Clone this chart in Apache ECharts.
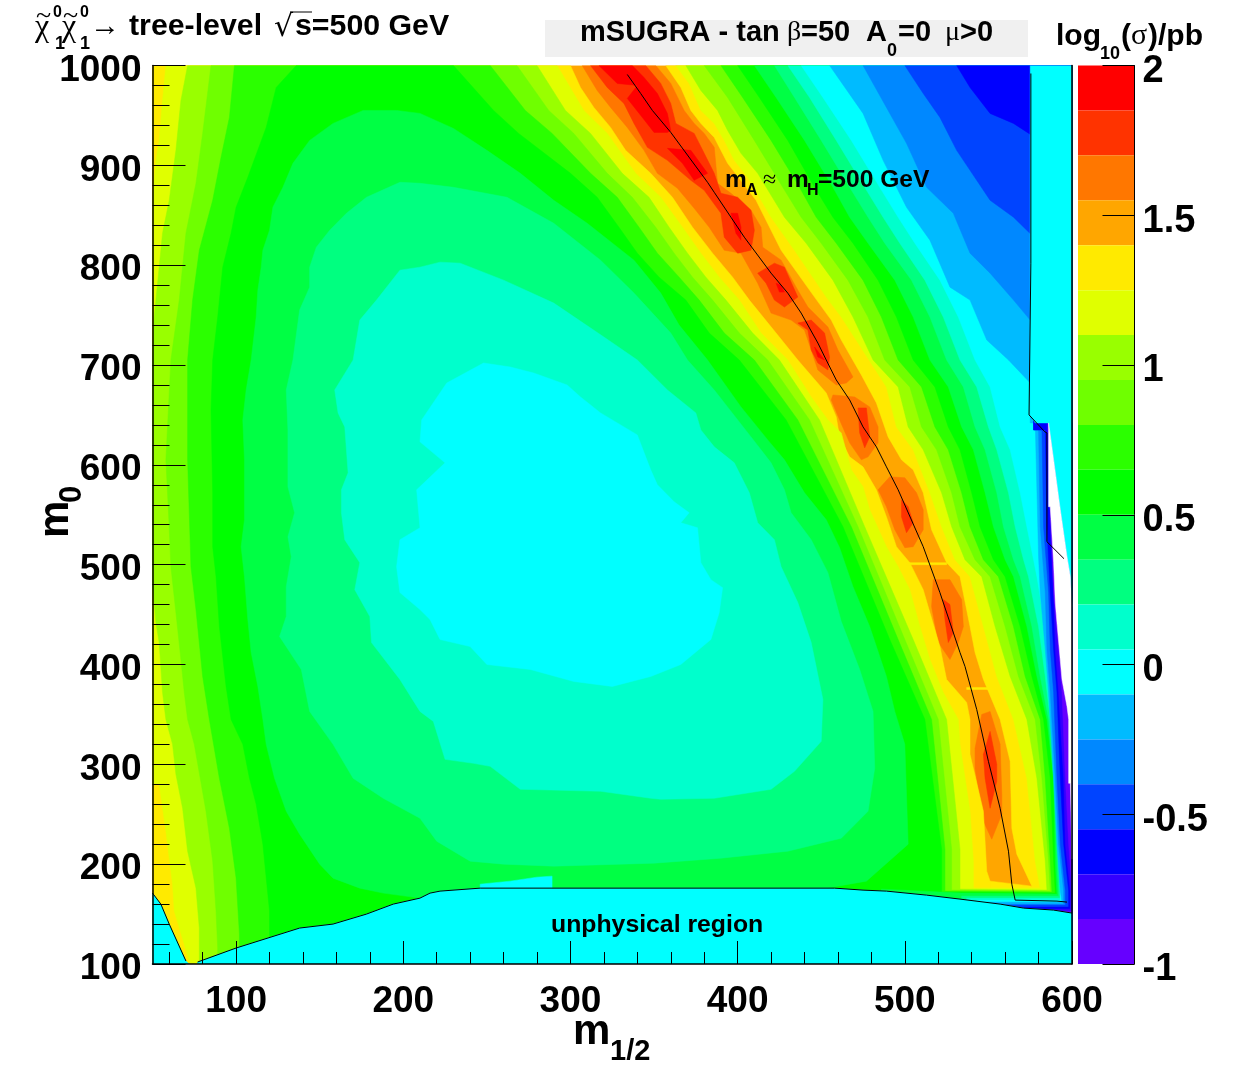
<!DOCTYPE html>
<html><head><meta charset="utf-8">
<style>html,body{margin:0;padding:0;background:#fff}#c{width:1245px;height:1072px}</style>
<script src="https://cdn.jsdelivr.net/npm/echarts@6/dist/echarts.min.js"></script>
</head><body><div id="c"></div>
<script>
// colour of each palette band, from the top of the scale (2) to the bottom (-1)
const bandColors=['#ff0000','#ff3300','#ff7700','#ffa600','#ffea00','#e0ff00','#99ff00','#6fff00','#2bff00','#00ff00','#00ff44','#00ff80','#00ffcc','#00ffff','#00bbff','#0088ff','#0044ff','#0000ff','#3300ff','#6600ff'];
const bandEdges=[2,1.85,1.7,1.55,1.4,1.25,1.1,0.95,0.8,0.65,0.5,0.35,0.2,0.05,-0.1,-0.25,-0.4,-0.55,-0.7,-0.85,-1];
const xMajor=[100,200,300,400,500,600];
const xMinor=[60,80,120,140,160,180,220,240,260,280,320,340,360,380,420,440,460,480,520,540,560,580];

// contours, (m1/2, m0). Left of the ridge
const left4=[[50,1000],[50,100],[551,100],[551,183],[549,193],[547,253],[539,310],[539,345],[537,362],[525,385],[521,418],[515,452],[511,475],[503,502],[495,518],[489,548],[483,575],[475,598],[467,608],[461,628],[459,648],[453,672],[436,705],[423,732],[407,765],[397,788],[385,812],[373,838],[361,868],[348,892],[333,915],[324,938],[314,958],[306,978],[300,1000]];
const left5=[[58,1000],[56,965],[54,925],[52,905],[50,865],[50,280],[54,280],[58,233],[60,206],[62,180],[63,153],[72,103],[72,100],[541,100],[541,176],[541,203],[539,253],[533,320],[532,345],[523,372],[515,405],[509,438],[503,475],[496,498],[489,518],[479,555],[475,578],[468,595],[462,632],[454,645],[444,668],[430,705],[414,732],[401,765],[389,788],[378,812],[367,838],[354,868],[339,892],[322,932],[308,955],[292,1000]];
const left6=[[71,1000],[67,965],[64,915],[60,865],[56,832],[54,798],[51,748],[50,705],[50,478],[51,462],[52,442],[54,422],[56,372],[58,345],[62,320],[64,290],[68,256],[71,213],[76,176],[78,136],[78,100],[533,100],[533,176],[533,215],[525,345],[505,425],[476,538],[449,645],[425,705],[409,732],[393,765],[381,788],[370,812],[359,838],[347,868],[331,892],[312,932],[297,955],[280,1000]];
const left7=[[85,1000],[80,932],[76,882],[70,832],[66,765],[61,705],[58,605],[60,538],[61,498],[64,452],[67,405],[69,372],[71,345],[75,320],[82,253],[86,203],[88,153],[89,116],[89,100],[528,100],[528,215],[520,345],[500,425],[472,538],[443,645],[418,705],[401,732],[385,765],[373,788],[362,812],[351,838],[337,868],[322,892],[302,932],[287,955],[268,1000]];
const left8=[[99,1000],[96,948],[91,908],[86,865],[78,815],[74,765],[71,705],[71,605],[73,498],[76,455],[80,388],[84,345],[90,286],[96,236],[100,186],[102,130],[102,100],[524,100],[524,215],[516,345],[496,425],[468,538],[436,645],[410,705],[392,732],[377,765],[365,788],[352,812],[341,838],[328,868],[312,892],[289,932],[273,955],[252,1000]];
const left9=[[136,1000],[124,978],[118,938],[107,888],[100,858],[97,832],[92,798],[89,748],[86,705],[85,655],[86,572],[86,518],[88,488],[90,438],[94,378],[97,345],[104,320],[108,286],[112,260],[116,220],[120,153],[120,100],[522,100],[522,215],[512,345],[491,425],[463,538],[429,645],[401,705],[383,732],[369,765],[353,788],[340,812],[329,838],[316,868],[300,892],[269,932],[254,955],[230,1000]];
const left10=[[210,952],[196,955],[176,955],[158,942],[144,925],[134,902],[128,878],[122,858],[120,835],[116,815],[115,798],[113,775],[112,748],[109,705],[106,675],[104,645],[105,605],[105,545],[103,518],[105,488],[107,445],[109,412],[113,378],[116,345],[118,320],[123,286],[130,253],[138,230],[150,200],[158,186],[174,176],[188,171],[210,166],[210,140],[453,140],[453,176],[477,183],[502,220],[500,320],[494,353],[489,388],[479,438],[469,478],[461,517],[453,545],[440,572],[428,605],[418,625],[402,658],[382,705],[365,740],[354,772],[338,805],[310,842],[290,865],[270,892],[250,915],[230,937]];
const left11=[[210,882],[198,883],[178,868],[166,852],[156,835],[148,818],[144,798],[144,778],[138,755],[134,705],[130,675],[131,635],[131,578],[135,552],[131,528],[133,508],[130,478],[130,448],[126,428],[139,395],[144,353],[158,320],[170,286],[188,266],[210,246],[220,223],[240,203],[260,200],[290,198],[350,201],[390,206],[430,213],[462,226],[478,253],[482,296],[481,353],[473,395],[462,443],[454,492],[444,525],[432,552],[428,575],[420,602],[408,628],[386,675],[370,705],[360,732],[338,772],[318,805],[290,842],[262,868],[230,878]];
const left12=[[210,798],[198,795],[184,765],[174,745],[170,705],[159,675],[161,652],[165,638],[167,592],[163,575],[163,552],[165,525],[174,502],[171,475],[180,448],[181,422],[198,385],[210,353],[218,343],[225,305],[242,301],[252,298],[270,275],[318,273],[348,266],[354,265],[386,266],[420,275],[434,293],[450,323],[451,365],[444,422],[436,462],[426,498],[422,525],[412,542],[407,572],[398,602],[386,618],[378,635],[375,652],[358,675],[340,705],[320,728],[290,762],[260,785],[234,802],[222,803]];
const left13=[[248,702],[264,698],[278,692],[298,680],[306,668],[318,652],[340,630],[345,608],[348,595],[352,580],[362,563],[371,552],[366,542],[376,537],[378,502],[384,485],[391,477],[389,452],[384,425],[366,400],[348,388],[325,378],[302,383],[276,395],[250,400],[240,418],[222,425],[216,445],[210,455],[198,472],[196,498],[198,525],[210,537],[208,575],[225,602],[210,623],[211,645],[226,682]];
// right of the ridge
const right4=[[357,1000],[366,978],[372,955],[378,942],[386,928],[394,902],[411,865],[426,815],[446,768],[456,745],[462,725],[474,690],[483,662],[490,628],[498,605],[505,595],[511,572],[516,535],[525,502],[533,488],[539,438],[542,412],[547,385],[557,345],[563,303],[564,236],[567,210],[576,178],[551,183],[551,100],[600,100],[600,1000]];
const right5=[[363,1000],[371,982],[378,955],[386,942],[392,925],[398,905],[406,888],[420,848],[434,815],[453,768],[462,748],[489,678],[495,638],[505,615],[515,572],[522,538],[530,505],[539,488],[547,438],[555,388],[565,345],[573,286],[578,203],[581,176],[541,176],[541,100],[600,100],[600,1000]];
const right6=[[369,1000],[378,975],[388,955],[394,935],[402,912],[412,892],[428,848],[441,822],[457,785],[469,748],[481,705],[496,678],[502,638],[511,615],[522,572],[528,538],[536,505],[546,488],[554,438],[563,388],[573,345],[579,286],[584,203],[585,174],[533,175],[533,100],[600,100],[600,1000]];
const right7=[[380,1000],[394,968],[410,925],[427,878],[438,848],[450,822],[466,785],[478,748],[488,705],[503,678],[510,638],[519,615],[528,572],[533,538],[542,505],[551,488],[560,438],[568,388],[578,345],[582,286],[586,203],[587,173],[528,174],[528,100],[600,100],[600,1000]];
const right8=[[390,1000],[403,968],[420,925],[437,878],[447,848],[459,822],[475,785],[486,748],[496,705],[510,678],[518,638],[526,615],[534,572],[539,538],[547,505],[556,488],[565,438],[572,388],[581,345],[584,286],[587,203],[588,172],[524,173],[524,100],[600,100],[600,1000]];
const right9=[[400,1000],[413,968],[430,925],[446,878],[457,848],[469,822],[484,785],[495,748],[505,705],[518,678],[526,638],[533,615],[540,572],[545,538],[553,505],[560,488],[569,438],[576,388],[583,345],[587,286],[589,203],[590,171],[522,172],[522,100],[600,100],[600,1000]];
const right10=[[410,1000],[423,968],[440,925],[457,878],[467,848],[478,822],[494,785],[505,748],[515,705],[526,678],[534,638],[541,615],[548,572],[553,538],[560,505],[565,488],[573,438],[579,388],[585,345],[589,286],[590,203],[591,170],[534,171],[486,175],[486,100],[600,100],[600,1000]];
const right11=[[422,1000],[434,968],[450,925],[467,878],[478,848],[488,822],[504,785],[515,748],[525,705],[535,678],[542,638],[548,615],[555,572],[559,538],[565,505],[569,488],[576,438],[581,388],[586,345],[589,286],[591,203],[592,168],[534,168],[534,100],[600,100],[600,1000]];
const right12=[[430,1000],[443,968],[459,925],[476,878],[487,848],[497,822],[512,785],[523,748],[533,705],[543,678],[550,638],[555,615],[562,572],[566,538],[571,505],[574,488],[580,438],[584,388],[587,345],[590,286],[592,203],[593,166],[537,166],[537,100],[600,100],[600,1000]];
const right13=[[438,1000],[451,968],[468,925],[485,878],[496,848],[506,822],[521,785],[532,748],[542,705],[551,678],[557,638],[563,615],[569,572],[573,538],[577,505],[579,488],[584,438],[586,388],[588,345],[591,286],[593,203],[593,164],[543,164],[543,100],[600,100],[600,1000]];
const right14=[[455,1000],[475,952],[487,905],[501,858],[515,825],[527,778],[539,765],[549,725],[562,705],[575,682],[575,642],[578,642],[580,508],[581,472],[584,415],[586,372],[589,286],[591,220],[593,173],[594,162],[549,162],[549,100],[600,100],[600,1000]];
const right15=[[475,1000],[489,958],[501,922],[513,878],[529,852],[539,812],[551,792],[565,765],[575,745],[577,745],[577,635],[580,635],[581,538],[584,472],[585,415],[587,372],[590,286],[592,220],[595,173],[595,160],[555,160],[555,100],[600,100],[600,1000]];
const right16=[[500,1000],[511,972],[521,948],[531,915],[551,865],[565,848],[576,830],[577,830],[577,635],[582,635],[583,538],[586,472],[587,415],[589,372],[591,286],[593,220],[596,173],[596,159],[561,159],[561,100],[600,100],[600,1000]];
const right17=[[531,1000],[539,978],[551,952],[565,942],[576,930],[577,930],[577,635],[584,635],[585,538],[587,472],[589,415],[591,372],[593,286],[595,220],[598,173],[598,157],[567,157],[567,100],[600,100],[600,1000]];
const right18=[[585,642],[587,538],[589,472],[590,415],[592,372],[595,286],[596,220],[599,173],[599,155],[576,155],[576,100],[600,100],[600,642]];
const right19=[[587,558],[589,472],[592,415],[594,372],[596,286],[598,220],[600,173],[600,153],[586,153],[586,100],[600,100],[600,558]];
// ridge islands, drawn on the orange base band
const peak2a=[[307,1000],[316,975],[324,958],[334,938],[344,915],[352,892],[364,877],[374,857],[383,838],[392,815],[402,812],[412,782],[420,752],[432,745],[440,735],[444,715],[448,695],[459,680],[465,682],[469,688],[460,715],[454,738],[442,758],[436,775],[426,805],[415,818],[414,838],[408,855],[396,872],[388,882],[386,918],[380,932],[374,942],[368,955],[360,982],[351,1000]];
const peak2b=[[457,670],[470,668],[479,658],[484,638],[484,622],[478,608],[474,605],[467,622],[461,645],[456,665]];
const peak2c=[[484,575],[491,588],[500,587],[507,572],[511,555],[511,535],[505,518],[500,517],[494,535],[489,558]];
const peak2d=[[517,485],[527,485],[534,465],[535,438],[532,422],[527,405],[520,422],[516,458]];
const peak2e=[[546,350],[551,353],[557,320],[558,270],[558,250],[552,225],[547,243],[542,296],[542,316]];
const peak1a=[[312,1000],[322,978],[332,962],[338,942],[346,918],[358,905],[372,885],[380,875],[390,852],[392,828],[400,812],[408,815],[410,835],[408,855],[400,868],[390,872],[386,892],[380,912],[374,932],[363,942],[360,962],[354,982],[345,1000]];
const peak1b=[[412,792],[422,802],[428,798],[436,768],[428,758],[422,765],[417,782]];
const peak1c=[[436,742],[444,745],[452,732],[455,708],[454,695],[448,702],[444,715],[442,735]];
const peak1d=[[472,657],[477,657],[479,628],[476,617],[473,632]];
const peak1e=[[498,565],[502,558],[505,542],[501,532],[498,548]];
const peak1f=[[523,465],[527,460],[529,432],[526,422],[524,445]];
const peak1g=[[551,333],[555,300],[555,283],[551,256],[548,286],[547,310]];
const peak0a=[[317,1000],[337,1000],[344,988],[352,972],[358,952],[360,935],[358,933],[350,933],[343,948],[334,967],[340,980],[328,982]];
const peak0b=[[358,917],[372,915],[382,892],[374,885],[367,902]];
const peak0c=[[396,852],[400,852],[402,838],[402,825],[399,832]];
const peak0d=[[423,782],[426,780],[428,773],[425,773]];
const peak0e=[[446,718],[452,705],[448,708]];
const slit1=[[501,502],[525,502],[525,500],[501,500]];
const slit2=[[537,377],[551,377],[551,375],[537,375]];
// no-data regions
const column=[[575,1000],[600,1000],[600,458],[599,488],[597,508],[593,555],[589,605],[586,642],[578,642],[575,650]];
const wedge=[[586,642],[589,605],[593,555],[597,508],[599,488],[600,458],[600,205],[599,281],[598,281],[598,345],[597,358],[594,385],[591,442],[590,462],[589,502],[587,558],[586,558]];
const unphysicalLeft=[[50,171],[55,160],[60,140],[70,103],[72,100],[50,100]];
const unphysical=[[77,102],[100,116],[138,136],[158,140],[178,150],[194,160],[210,166],[216,171],[222,173],[246,176],[246,180],[264,183],[280,187],[289,188],[289,176],[458,176],[475,174],[489,173],[513,169],[533,165],[557,160],[571,156],[589,154],[600,151],[600,100],[77,100]];
// black lines
const lineBoundaryLeft=[[50,171],[55,160],[60,140],[70,103]];
const lineBoundary=[[77,102],[100,116],[138,136],[158,140],[178,150],[194,160],[210,166],[216,171],[222,173],[246,176],[458,176],[475,174],[489,173],[513,169],[533,165],[557,160],[571,156],[589,154],[600,151]];
const lineRidge=[[334,991],[342,972],[349,955],[360,933],[382,883],[386,873],[396,848],[404,828],[420,792],[430,772],[438,752],[448,722],[453,705],[459,685],[467,665],[475,638],[483,618],[489,598],[496,575],[511,518],[521,472],[533,412],[536,398],[543,355],[550,303],[557,256],[562,213],[564,180],[566,164],[591,163],[597,162]];
const lineEdge=[[575.4,992],[575.4,802],[574.3,802],[574.3,650],[583.8,633],[585,632],[585,523],[595.2,506]];

const layers=[
 [[[50,1000],[600,1000],[600,100],[50,100]],3],
 [peak2a,2],[peak2b,2],[peak2c,2],[peak2d,2],[peak2e,2],
 [peak1a,1],[peak1b,1],[peak1c,1],[peak1d,1],[peak1e,1],[peak1f,1],[peak1g,1],
 [peak0a,0],[peak0b,0],[peak0c,0],[peak0d,0],[peak0e,0],
 [left4,4],[right4,4],[slit1,4],[slit2,4],
 [left5,5],[right5,5],[left6,6],[right6,6],[left7,7],[right7,7],[left8,8],[right8,8],[left9,9],[right9,9],
 [left10,10],[right10,10],[left11,11],[right11,11],[left12,12],[right12,12],[left13,13],[right13,13],
 [right14,14],[right15,15],[right16,16],[right17,17],[right18,18],[right19,19],
 [column,13],[wedge,-1],[unphysicalLeft,13],[unphysical,13]
];

const F='"Liberation Sans"',S='"Liberation Serif"';
function T(text,x,base,size,opt){opt=opt||{};
 return {type:'text',x:x,y:base,rotation:opt.rot||0,z:100,silent:true,
  style:{text:text,font:(opt.w||'bold')+' '+size+'px '+(opt.f||F),fill:'#000',align:opt.a||'left',verticalAlign:'bottom'}};}
const off=s=>s*0.212; // line box descent, so that `base` is the text baseline
function TB(text,x,base,size,opt){return T(text,x,base+off(size),size,opt);}

const graphicEls=[
 {type:'rect',z:1,silent:true,shape:{x:545,y:20,width:483,height:37},style:{fill:'#f0f0f0'}},
 TB('χ',35,37,32,{w:'normal',f:S}),TB('~',36,25,28,{w:'normal',f:S}),TB('0',53,17,16),TB('1',55,49,18),
 TB('χ',62,37,32,{w:'normal',f:S}),TB('~',63,25,28,{w:'normal',f:S}),TB('0',80,17,16),TB('1',80,49,18),
 TB('→',90,36,30,{w:'normal',f:S}),
 TB('tree-level',129,35,30.3),TB('√',274,37,30,{w:'normal',f:'"DejaVu Sans"'}),TB('s=500 GeV',295,35,30.3),
 {type:'line',z:100,silent:true,shape:{x1:290,y1:12,x2:312,y2:12},style:{stroke:'#000',lineWidth:1}},
 TB('mSUGRA - tan',580,41,29),TB('β',787,41,28,{w:'normal',f:S}),TB('=50',801,41,29),
 TB('A',866,41,29),TB('0',887,56,18),TB('=0',898,41,29),TB('μ',945,41,28,{w:'normal',f:S}),TB('>0',960,41,29),
 TB('log',1056,45,30),TB('10',1100,59,18),TB('(',1121,45,30),TB('σ',1131,45,30,{w:'normal',f:S}),TB(')/pb',1148,45,30),
 TB('m',725,188,24.5),TB('A',746,195,16),TB('≈',763,188,24,{w:'normal',f:S}),TB('m',787,188,24.5),TB('H',807,195,16),TB('=500 GeV',818,188,24.6),
 TB('unphysical region',551,932,24.8),
 TB('m',573,1045,42),TB('1/2',610,1060,29),
 T('m',77,538,42,{rot:Math.PI/2}),T('0',88,503,31,{rot:Math.PI/2})
];

const chart=echarts.init(document.getElementById('c'),null,{renderer:'canvas'});
const axisFont={fontFamily:F,fontWeight:'bold',fontSize:37,color:'#000'};
chart.setOption({
 animation:false,backgroundColor:'#fff',
 graphic:{elements:graphicEls},
 grid:[{left:152.5,top:65.5,width:919.5,height:898.5},{left:1078,top:65.5,width:56.5,height:898.5}],
 xAxis:[
  {gridIndex:0,type:'value',min:50,max:600,z:10,splitLine:{show:false},
   axisLine:{onZero:false,lineStyle:{color:'#000',width:1.5}},
   axisTick:{inside:true,length:23,customValues:xMajor,lineStyle:{color:'#000',width:1}},
   axisLabel:Object.assign({customValues:xMajor,margin:19,hideOverlap:false},axisFont)},
  {gridIndex:0,type:'value',min:50,max:600,z:10,position:'bottom',splitLine:{show:false},
   axisLine:{show:false},axisLabel:{show:false},
   axisTick:{inside:true,length:12,customValues:xMinor,lineStyle:{color:'#000',width:1}}},
  {gridIndex:1,type:'value',min:0,max:1,show:false}
 ],
 yAxis:[
  {gridIndex:0,type:'value',min:100,max:1000,interval:100,z:10,splitLine:{show:false},
   axisLine:{onZero:false,lineStyle:{color:'#000',width:1.5}},
   axisTick:{inside:true,length:33,lineStyle:{color:'#000',width:1}},
   minorTick:{show:true,splitNumber:5,length:17,lineStyle:{color:'#000',width:1}},
   axisLabel:Object.assign({margin:11,verticalAlign:'top',lineHeight:10,formatter:v=>String(v),showMinLabel:true,showMaxLabel:true},axisFont)},
  {gridIndex:0,type:'value',min:100,max:1000,position:'right',z:10,splitLine:{show:false},
   axisLine:{show:true,onZero:false,lineStyle:{color:'#000',width:1.5}},axisTick:{show:false},axisLabel:{show:false}},
  {gridIndex:1,type:'value',min:-1,max:2,interval:0.5,position:'right',z:10,splitLine:{show:false},
   axisLine:{show:true,onZero:false,lineStyle:{color:'#000',width:1}},
   axisTick:{inside:true,length:32,lineStyle:{color:'#000',width:1}},
   axisLabel:Object.assign({margin:8,verticalAlign:'top',lineHeight:12,formatter:v=>String(v),showMinLabel:true,showMaxLabel:true},axisFont,{fontSize:38})}
 ],
 series:[
  {type:'custom',xAxisIndex:0,yAxisIndex:0,clip:true,z:2,silent:true,
   data:layers.map((l,i)=>[i]),
   renderItem:(p,api)=>{const l=layers[api.value(0)];
     return {type:'polygon',shape:{points:l[0].map(q=>api.coord(q))},
       style:{fill:l[1]<0?'#fff':bandColors[l[1]],stroke:l[1]<0?'#fff':bandColors[l[1]],lineWidth:0.5}};},
   encode:{x:[],y:[]}},
  {type:'custom',xAxisIndex:2,yAxisIndex:2,z:2,silent:true,
   data:bandColors.map((c,i)=>[i]),
   renderItem:(p,api)=>{const i=api.value(0);const a=api.coord([0,bandEdges[i]]),b=api.coord([1,bandEdges[i+1]]);
     return {type:'rect',shape:{x:a[0],y:a[1],width:b[0]-a[0],height:b[1]-a[1]},style:{fill:bandColors[i]}};},
   encode:{x:[],y:[]}},
  ...[lineBoundaryLeft,lineBoundary,lineRidge,lineEdge].map(d=>({type:'line',xAxisIndex:0,yAxisIndex:0,data:d,symbol:'none',z:5,silent:true,lineStyle:{color:'#000',width:1}}))
 ]
});
</script></body></html>
